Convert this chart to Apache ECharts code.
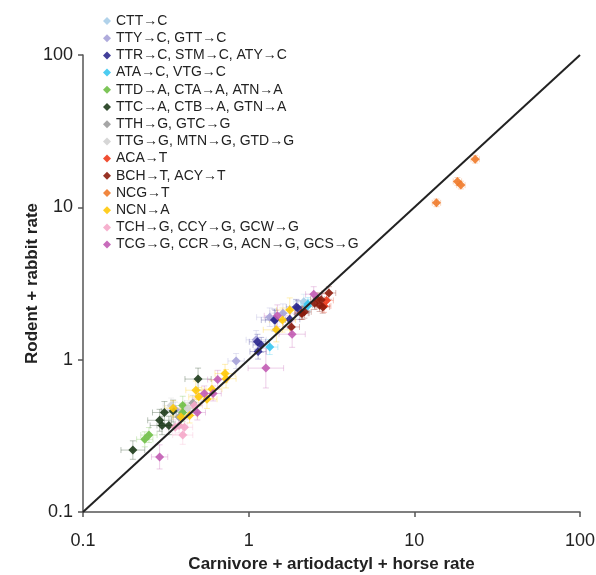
<!DOCTYPE html>
<html><head><meta charset="utf-8">
<script src="https://cdn.jsdelivr.net/npm/echarts@6/dist/echarts.min.js"></script>
<style>html,body{margin:0;padding:0;background:#fff}#c{width:596px;height:575px}</style>
</head><body><div id="c"></div>
<script>
// Legend / series names
const seriesNames = [
  'CTT→C',
  'TTY→C, GTT→C',
  'TTR→C, STM→C, ATY→C',
  'ATA→C, VTG→C',
  'TTD→A, CTA→A, ATN→A',
  'TTC→A, CTB→A, GTN→A',
  'TTH→G, GTC→G',
  'TTG→G, MTN→G, GTD→G',
  'ACA→T',
  'BCH→T, ACY→T',
  'NCG→T',
  'NCN→A',
  'TCH→G, CCY→G, GCW→G',
  'TCG→G, CCR→G, ACN→G, GCS→G'
];
const seriesColors = ['#a9cde8','#a6a2d8','#2d2a8e','#38c6f0','#6fbf46','#1e3b1b','#9c9c9c','#d2d2d2',
  '#ee3b1c','#8c1c0c','#f07a2a','#ffc90a','#f5a8c9','#c25cb4'];

// Each point: [x rate, y rate, x error factor, y error factor]
const cttC = [[2.15,2.4,1.15,1.12]];
const ttyC = [[0.84,0.98,1.12,1.12],[1.11,1.35,1.15,1.15],[1.61,2.02,1.2,1.15],[1.34,1.9,1.2,1.15],[0.36,0.47,1.12,1.12]];
const ttrC = [[1.13,1.31,1.12,1.12],[1.19,1.25,1.12,1.12],[1.14,1.13,1.12,1.12],[1.43,1.82,1.2,1.18],[1.94,2.22,1.15,1.12],[1.98,2.18,1.12,1.12],[1.45,1.83,1.15,1.15],[1.77,1.84,1.15,1.15]];
const ataC = [[1.34,1.21,1.12,1.12],[2.28,2.32,1.1,1.1],[2.27,2.25,1.1,1.1]];
const ttdA = [[0.40,0.50,1.15,1.15],[0.40,0.45,1.15,1.15],[0.236,0.30,1.12,1.12],[0.25,0.32,1.12,1.12]];
const ttcA = [[0.495,0.746,1.2,1.18],[0.35,0.46,1.18,1.18],[0.31,0.45,1.18,1.18],[0.33,0.37,1.18,1.15],[0.30,0.37,1.18,1.15],[0.20,0.255,1.18,1.15],[0.29,0.40,1.18,1.18]];
const tthG = [[0.46,0.52,1.12,1.12],[0.38,0.42,1.12,1.12]];
const ttgG = [[0.43,0.48,1.12,1.12],[0.34,0.50,1.12,1.12]];
const acaT = [[2.85,2.25,1.1,1.1],[2.95,2.45,1.1,1.1]];
const bchT = [[3.05,2.74,1.1,1.1],[2.74,2.47,1.1,1.1],[2.5,2.35,1.1,1.1],[2.68,2.28,1.1,1.1],[2.8,2.22,1.1,1.1],[2.08,2.02,1.1,1.1],[2.17,2.06,1.1,1.1],[1.81,1.64,1.12,1.12],[2.11,2.02,1.1,1.1],[2.6,2.5,1.1,1.1]];
const ncgT = [[23.3,20.7,1.06,1.06],[18.2,14.8,1.06,1.06],[19.1,14.0,1.06,1.06],[13.6,10.7,1.06,1.06]];
const ncnA = [[0.72,0.81,1.15,1.15],[0.73,0.75,1.15,1.15],[0.48,0.63,1.15,1.15],[0.50,0.57,1.15,1.15],[0.60,0.64,1.15,1.15],[0.56,0.55,1.15,1.15],[0.35,0.48,1.12,1.12],[0.44,0.43,1.12,1.12],[0.39,0.42,1.12,1.12],[1.60,1.82,1.2,1.2],[1.77,2.12,1.2,1.2],[1.47,1.57,1.2,1.2]];
const tchG = [[0.47,0.50,1.12,1.12],[0.38,0.37,1.12,1.12],[0.41,0.36,1.12,1.12],[0.40,0.32,1.15,1.15],[0.36,0.36,1.12,1.12]];
const tcgG = [[0.65,0.74,1.15,1.15],[1.27,0.88,1.28,1.35],[1.83,1.47,1.2,1.22],[1.49,1.94,1.2,1.18],[2.47,2.69,1.12,1.12],[0.54,0.60,1.12,1.12],[0.61,0.60,1.12,1.12],[0.49,0.45,1.12,1.12],[0.29,0.23,1.12,1.2]];

const groups = [cttC,ttyC,ttrC,ataC,ttdA,ttcA,tthG,ttgG,acaT,bchT,ncgT,ncnA,tchG,tcgG];
const axisTicks = [0.1, 1, 10, 100];
const diagonal = [[0.1,0.1],[100,100]];

function rgba(hex,a){const n=parseInt(hex.slice(1),16);return 'rgba('+(n>>16)+','+((n>>8)&255)+','+(n&255)+','+a+')';}

const errData = [];
groups.forEach((g,i)=>g.forEach(p=>errData.push([p[0],p[1],p[2],p[3],i])));

const chart = echarts.init(document.getElementById('c'));
const series = [{
  type:'custom', silent:true, z:1,
  data: errData, encode:{x:0,y:1},
  renderItem(params, api){
    const x=api.value(0), y=api.value(1), ex=api.value(2), ey=api.value(3), ci=api.value(4);
    const c=api.coord([x,y]), l=api.coord([x/ex,y]), r=api.coord([x*ex,y]);
    const b=api.coord([x,y/ey]), t=api.coord([x,y*ey]);
    const style={stroke:rgba(seriesColors[ci],0.3),lineWidth:1};
    const cap=3;
    return {type:'group',children:[
      {type:'line',shape:{x1:l[0],y1:c[1],x2:r[0],y2:c[1]},style},
      {type:'line',shape:{x1:c[0],y1:b[1],x2:c[0],y2:t[1]},style},
      {type:'line',shape:{x1:l[0],y1:c[1]-cap,x2:l[0],y2:c[1]+cap},style},
      {type:'line',shape:{x1:r[0],y1:c[1]-cap,x2:r[0],y2:c[1]+cap},style},
      {type:'line',shape:{x1:c[0]-cap,y1:b[1],x2:c[0]+cap,y2:b[1]},style},
      {type:'line',shape:{x1:c[0]-cap,y1:t[1],x2:c[0]+cap,y2:t[1]},style}
    ]};
  }
}];
groups.forEach((g,i)=>series.push({
  type:'scatter', name:seriesNames[i], symbol:'diamond', symbolSize:9, z:3,
  itemStyle:{color:seriesColors[i], opacity:0.9},
  data:g.map(p=>[p[0],p[1]])
}));
series.push({type:'line', data:diagonal, symbol:'none', silent:true, z:5,
  lineStyle:{color:'#222', width:2}});

const FONT = '"Liberation Sans", "DejaVu Sans", sans-serif';
const axisCommon = {
  type:'log', logBase:10, min:0.1, max:100,
  axisLine:{show:true, lineStyle:{color:'#555', width:1.5}},
  axisTick:{show:true, length:5, lineStyle:{color:'#555', width:1.5}},
  splitLine:{show:false}, minorTick:{show:false},
  axisLabel:{fontSize:18, color:'#222', fontFamily:FONT,
    formatter:v=>String(axisTicks.find(t=>Math.abs(t-v)/t<1e-6) ?? v)},
  nameLocation:'middle',
  nameTextStyle:{fontSize:17, fontWeight:'bold', color:'#222', fontFamily:FONT}
};

chart.setOption({
  animation:false,
  backgroundColor:'#fff',
  grid:{left:83, right:16, top:55, bottom:63, containLabel:false, outerBoundsMode:'none'},
  legend:{
    data:seriesNames.map(n=>({name:n, icon:'diamond'})),
    orient:'vertical', left:98, top:9, itemWidth:8, itemHeight:8, itemGap:3.2,
    textStyle:{fontSize:14, lineHeight:14, color:'#222', fontFamily:FONT}
  },
  xAxis:Object.assign({}, axisCommon, {name:'Carnivore + artiodactyl + horse rate', nameGap:44,
    axisLabel:Object.assign({}, axisCommon.axisLabel, {margin:20})}),
  yAxis:Object.assign({}, axisCommon, {name:'Rodent + rabbit rate', nameGap:42, nameMoveOverlap:false,
    axisLabel:Object.assign({}, axisCommon.axisLabel, {margin:10})}),
  series
});
</script></body></html>
